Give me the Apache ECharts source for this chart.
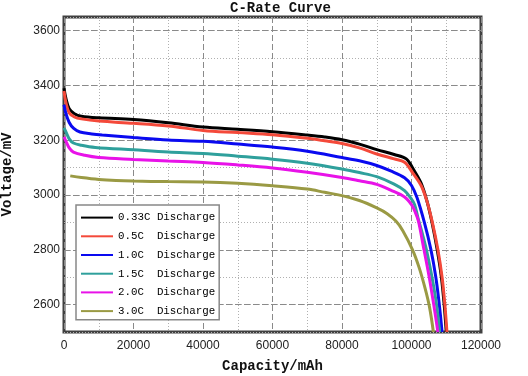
<!DOCTYPE html>
<html>
<head>
<meta charset="utf-8">
<script src="https://cdn.jsdelivr.net/npm/echarts@6/dist/echarts.min.js"></script>
<style>
  html, body { margin: 0; padding: 0; background: #fff; }
  #chart { width: 528px; height: 376px; }
</style>
</head>
<body>
<div id="chart"></div>
<script>
// labelled ticks
const xTicks = [0, 20000, 40000, 60000, 80000, 100000, 120000];
const yTicks = [2600, 2800, 3000, 3200, 3400, 3600];

const names = ["0.33C Discharge", "0.5C  Discharge", "1.0C  Discharge", "1.5C  Discharge", "2.0C  Discharge", "3.0C  Discharge"];
const colors = ["#000000", "#f4493a", "#0a0af0", "#2fa09c", "#e812e8", "#9a9a44"];

// capacity (mAh) / voltage (mV) per curve
const cap033 = [0, 600, 1500, 3000, 5000, 10000, 20000, 30000, 40000, 50000, 60000, 70000, 75000, 80000, 85000, 90000, 95000, 98500, 100500, 102700, 104400, 105900, 107400, 108600, 109400, 110000];
const volt033 = [3390, 3350, 3315, 3297, 3288, 3282, 3276, 3264, 3248, 3240, 3231, 3219, 3212, 3202, 3186, 3166, 3148, 3132, 3095, 3045, 2980, 2900, 2800, 2700, 2600, 2500];

const cap05 = [0, 600, 1500, 3000, 5000, 10000, 20000, 30000, 40000, 50000, 60000, 70000, 75000, 80000, 85000, 90000, 95000, 98000, 100300, 102800, 104500, 106000, 107600, 108800, 109600, 110200];
const volt05 = [3380, 3335, 3300, 3285, 3278, 3270, 3262, 3252, 3236, 3228, 3220, 3207, 3198, 3188, 3172, 3150, 3132, 3120, 3082, 3034, 2975, 2900, 2800, 2700, 2600, 2500];

const cap10 = [0, 500, 1500, 2800, 4600, 8000, 11000, 20000, 30000, 40000, 50000, 60000, 70000, 80000, 85000, 90000, 94000, 98000, 100000, 101600, 103700, 105600, 107000, 108000, 108800];
const volt10 = [3330, 3300, 3265, 3243, 3230, 3223, 3219, 3210, 3201, 3196, 3186, 3175, 3160, 3137, 3125, 3108, 3088, 3063, 3035, 2990, 2900, 2800, 2700, 2600, 2500];

const cap15 = [0, 500, 1500, 2700, 5000, 9000, 20000, 30000, 40000, 50000, 60000, 70000, 80000, 85000, 90000, 95000, 98000, 100000, 100900, 101900, 103100, 104300, 105900, 107200, 108100];
const volt15 = [3245, 3232, 3205, 3190, 3182, 3174, 3165, 3157, 3152, 3142, 3131, 3116, 3095, 3082, 3067, 3040, 3016, 2985, 2965, 2915, 2860, 2800, 2700, 2600, 2500];

const cap20 = [0, 500, 1500, 2700, 6000, 10000, 20000, 30000, 40000, 50000, 60000, 70000, 80000, 85000, 90000, 94000, 98000, 100000, 101000, 102000, 103300, 105100, 106400, 107600];
const volt20 = [3212, 3198, 3172, 3157, 3145, 3137, 3130, 3124, 3119, 3110, 3099, 3083, 3064, 3052, 3039, 3018, 2993, 2965, 2940, 2905, 2820, 2700, 2600, 2500];

const cap30 = [1800, 5000, 10000, 15000, 20000, 30000, 40000, 50000, 60000, 70000, 75000, 80000, 85000, 90000, 93000, 95500, 97500, 100300, 102200, 103900, 105200, 106300];
const volt30 = [3070, 3064, 3057, 3053, 3051, 3049, 3048, 3043, 3034, 3022, 3010, 2998, 2980, 2953, 2932, 2905, 2870, 2800, 2735, 2660, 2590, 2500];

const caps = [cap033, cap05, cap10, cap15, cap20, cap30];
const volts = [volt033, volt05, volt10, volt15, volt20, volt30];

const myChart = echarts.init(document.getElementById("chart"), null, { renderer: "canvas" });

const monoFont = "'Liberation Mono', monospace";
const sansFont = "'Liberation Sans', Arial, sans-serif";

const series = names.map(function (name, i) {
  return {
    name: name,
    type: "line",
    data: caps[i].map(function (c, j) { return [c, volts[i][j]]; }),
    symbol: "none",
    smooth: 0.35,
    lineStyle: { width: 3, color: colors[i] },
    itemStyle: { color: colors[i] },
  };
});

// dashed grid lines at the labelled voltages
series.unshift({
  name: "grid",
  type: "line",
  data: [],
  silent: true,
  markLine: {
    silent: true,
    symbol: "none",
    z: 1,
    label: { show: false },
    lineStyle: { color: "#8a8a8a", type: [6, 3], width: 1 },
    data: yTicks.map(function (v) { return { yAxis: v }; }),
  },
});

const option = {
  backgroundColor: "#fff",
  animation: false,
  title: {
    text: "C-Rate Curve",
    left: 225,
    top: -4,
    textStyle: { fontFamily: monoFont, fontWeight: "bold", fontSize: 14, color: "#111" },
  },
  legend: {
    data: names,
    orient: "vertical",
    left: 76,
    top: 205,
    itemWidth: 32,
    itemHeight: 14,
    itemGap: 7.5,
    padding: [7, 4, 3, 4],
    borderColor: "#888",
    borderWidth: 1.5,
    backgroundColor: "#fff",
    itemStyle: { opacity: 0 },
    textStyle: { fontFamily: monoFont, fontSize: 10.8, color: "#000" },
  },
  grid: {
    left: 64,
    right: 47,
    top: 17,
    bottom: 44,
    outerBoundsMode: "none",
    show: true,
    borderColor: "#404040",
    borderWidth: 3,
  },
  xAxis: {
    type: "value",
    min: 0,
    max: 120000,
    interval: 20000,
    name: "Capacity/mAh",
    nameLocation: "middle",
    nameGap: 27,
    nameTextStyle: { fontFamily: monoFont, fontWeight: "bold", fontSize: 14, color: "#111" },
    axisLine: { show: false },
    axisTick: { show: false },
    axisLabel: {
      margin: 8,
      fontFamily: sansFont,
      fontSize: 12,
      color: "#222",
      formatter: function (v) { return xTicks.indexOf(v) >= 0 ? String(v) : ""; },
    },
    splitLine: { show: true, lineStyle: { color: "#8a8a8a", type: [6, 3], width: 1 } },
    minorTick: { show: false, splitNumber: 2 },
    minorSplitLine: { show: true, lineStyle: { color: "#b0b0b0", type: [1, 2], width: 1 } },
  },
  yAxis: {
    type: "value",
    min: 2500,
    max: 3650,
    interval: 100,
    name: "Voltage/mV",
    nameLocation: "middle",
    nameGap: 50,
    nameTextStyle: { fontFamily: monoFont, fontWeight: "bold", fontSize: 14, color: "#111" },
    axisLine: { show: false },
    axisTick: { show: false },
    axisLabel: {
      margin: 4,
      fontFamily: sansFont,
      fontSize: 12,
      color: "#222",
      formatter: function (v) { return yTicks.indexOf(v) >= 0 ? String(v) : ""; },
    },
    splitLine: { show: true, lineStyle: { color: "#b0b0b0", type: [1, 2], width: 1 } },
  },
  series: series,
};

myChart.setOption(option);
</script>
</body>
</html>
